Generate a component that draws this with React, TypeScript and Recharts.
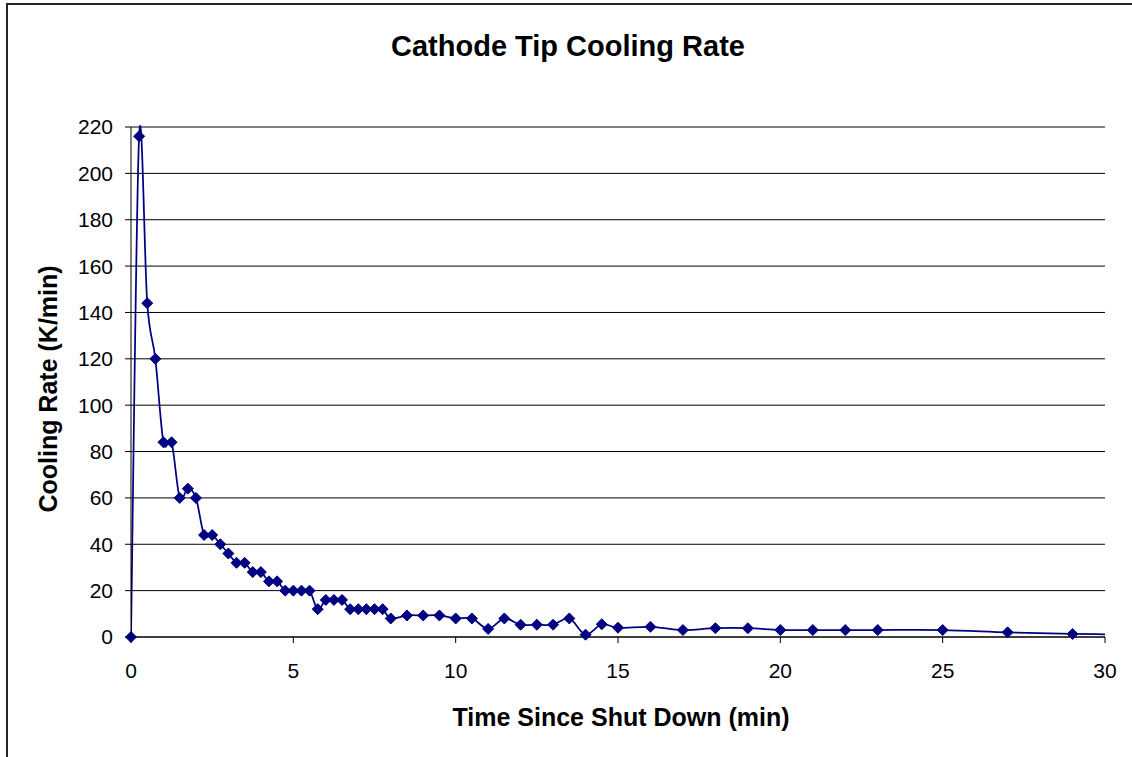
import React from "react";
import { LineChart, Line, XAxis, YAxis, CartesianGrid } from "recharts";

// readings every quarter minute, then sparser
const timeMin = [
  0, 0.25, 0.5, 0.75, 1, 1.25, 1.5, 1.75, 2, 2.25, 2.5, 2.75, 3, 3.25, 3.5,
  3.75, 4, 4.25, 4.5, 4.75, 5, 5.25, 5.5, 5.75, 6, 6.25, 6.5, 6.75, 7, 7.25,
  7.5, 7.75, 8, 8.5, 9, 9.5, 10, 10.5, 11, 11.5, 12, 12.5, 13, 13.5, 14, 14.5,
  15, 16, 17, 18, 19, 20, 21, 22, 23, 25, 27, 29,
];
const coolingRate = [
  0, 216, 144, 120, 84, 84, 60, 64, 60, 44, 44, 40, 36, 32, 32, 28, 28, 24,
  24, 20, 20, 20, 20, 12, 16, 16, 16, 12, 12, 12, 12, 12, 8, 9.3, 9.3, 9.3, 8,
  8, 3.5, 8, 5.3, 5.3, 5.3, 8, 1, 5.5, 4, 4.4, 3, 3.8, 3.8, 3, 3, 3, 3, 3, 2,
  1.3,
];
// the line runs on past the 30 min edge
const tailTime = [31];
const tailRate = [1.1];

const xTicks = [0, 5, 10, 15, 20, 25, 30];
const yTicks = [0, 20, 40, 60, 80, 100, 120, 140, 160, 180, 200, 220];

const FONT = '"Liberation Sans", Arial, Helvetica, sans-serif';
const NAVY = "#000080";

const markerData = timeMin.map((t, i) => ({ t, rate: coolingRate[i] }));
const lineData = [
  ...markerData,
  ...tailTime.map((t, i) => ({ t, rate: tailRate[i] })),
];

// excel-like smoothed line (catmull-rom as beziers)
const excelSmooth = (context: any) => {
  let pts: number[][] = [];
  return {
    areaStart() {},
    areaEnd() {},
    lineStart() {
      pts = [];
    },
    point(x: number, y: number) {
      pts.push([+x, +y]);
    },
    lineEnd() {
      const n = pts.length;
      if (!n) return;
      context.moveTo(pts[0][0], pts[0][1]);
      for (let i = 0; i < n - 1; i++) {
        const p0 = pts[Math.max(i - 1, 0)];
        const p1 = pts[i];
        const p2 = pts[i + 1];
        const p3 = pts[Math.min(i + 2, n - 1)];
        context.bezierCurveTo(
          p1[0] + (p2[0] - p0[0]) / 6,
          p1[1] + (p2[1] - p0[1]) / 6,
          p2[0] - (p3[0] - p1[0]) / 6,
          p2[1] - (p3[1] - p1[1]) / 6,
          p2[0],
          p2[1]
        );
      }
    },
  };
};

const Diamond = (props: any) => {
  const { cx, cy, index } = props;
  if (cx == null || cy == null) return null;
  const r = 5.5;
  return (
    <path
      key={`d-${index}`}
      d={`M${cx},${cy - r}L${cx + r},${cy}L${cx},${cy + r}L${cx - r},${cy}Z`}
      fill={NAVY}
      stroke={NAVY}
      strokeWidth={1}
    />
  );
};

const XTitle = ({ viewBox }: any) => (
  <text
    x={viewBox.x + viewBox.width / 2 + 3}
    y={viewBox.y + 89}
    textAnchor="middle"
    fontSize={25}
    fontWeight="bold"
    fontFamily={FONT}
    fill="#000"
  >
    Time Since Shut Down (min)
  </text>
);

const YTitle = ({ viewBox }: any) => {
  const cx = 57;
  const cy = viewBox.y + viewBox.height / 2 + 7;
  return (
    <text
      x={cx}
      y={cy}
      transform={`rotate(-90 ${cx} ${cy})`}
      textAnchor="middle"
      fontSize={25}
      fontWeight="bold"
      fontFamily={FONT}
      fill="#000"
    >
      Cooling Rate (K/min)
    </text>
  );
};

const tickStyle = { fill: "#000", fontSize: 21, fontFamily: FONT };

export default function App() {
  return (
    <div
      style={{
        position: "fixed",
        left: 0,
        top: 0,
        width: 1132,
        height: 757,
        overflow: "hidden",
        background: "#fff",
      }}
    >
      <div
        style={{
          position: "absolute",
          left: 6,
          top: 3,
          width: 1200,
          height: 900,
          boxSizing: "border-box",
          borderLeft: "2px solid #222",
          borderTop: "2px solid #222",
        }}
      />
      <div style={{ position: "absolute", left: 0, top: 0 }}>
        <LineChart
          width={1132}
          height={757}
          margin={{ top: 127, right: 27, bottom: 0, left: 0 }}
        >
          <CartesianGrid
            xAxisId="main"
            vertical={false}
            stroke="#000"
            strokeOpacity={1}
          />
          <XAxis
            xAxisId="main"
            dataKey="t"
            type="number"
            domain={[0, 30]}
            ticks={xTicks}
            interval={0}
            allowDataOverflow
            height={120}
            tick={tickStyle}
            tickSize={6}
            tickMargin={20}
            axisLine={{ stroke: "#000" }}
            tickLine={{ stroke: "#000" }}
            label={{ content: XTitle }}
          />
          <XAxis
            xAxisId="dots"
            dataKey="t"
            type="number"
            domain={[0, 30]}
            height={0}
            hide
          />
          <YAxis
            domain={[0, 220]}
            ticks={yTicks}
            interval={0}
            width={131}
            tick={tickStyle}
            tickSize={6}
            tickMargin={12}
            axisLine={{ stroke: "#000" }}
            tickLine={{ stroke: "#000" }}
            label={{ content: YTitle }}
          />
          <Line
            xAxisId="main"
            data={lineData}
            dataKey="rate"
            type={excelSmooth as any}
            stroke={NAVY}
            strokeWidth={1.75}
            dot={false}
            activeDot={false}
            isAnimationActive={false}
          />
          <Line
            xAxisId="dots"
            data={markerData}
            dataKey="rate"
            stroke="none"
            dot={Diamond}
            activeDot={false}
            isAnimationActive={false}
          />
        </LineChart>
      </div>
      <svg
        width={1132}
        height={90}
        style={{ position: "absolute", left: 0, top: 0, pointerEvents: "none" }}
      >
        <text
          x={568}
          y={56}
          textAnchor="middle"
          fontSize={29}
          fontWeight="bold"
          fontFamily={FONT}
          fill="#000"
        >
          Cathode Tip Cooling Rate
        </text>
      </svg>
    </div>
  );
}
